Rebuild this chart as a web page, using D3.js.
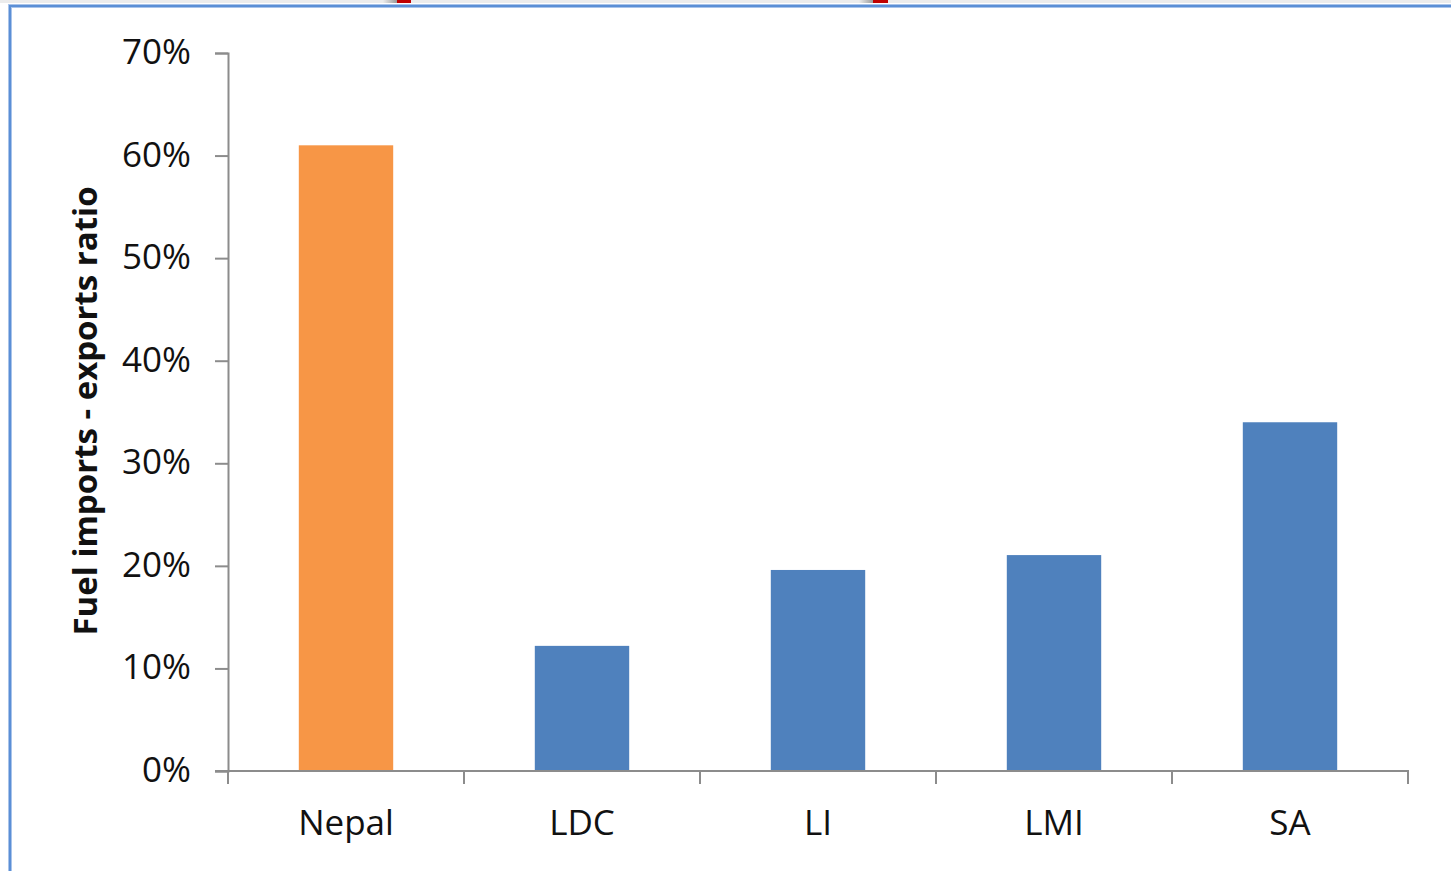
<!DOCTYPE html>
<html>
<head>
<meta charset="utf-8">
<script src="https://cdn.jsdelivr.net/npm/d3@7"></script>
<style>
  html, body { margin: 0; padding: 0; background: #fff; }
  svg { display: block; }
  text { font-family: "Open Sans", "Noto Sans", sans-serif; }
</style>
</head>
<body>
<svg id="chart" width="1451" height="871"></svg>
<script>
// Fuel imports as a share of exports
const categories = ["Nepal", "LDC", "LI", "LMI", "SA"];
const ratios = [0.61, 0.122, 0.196, 0.2105, 0.34];
const highlight = ["Nepal"];
const yTicks = [0, 0.1, 0.2, 0.3, 0.4, 0.5, 0.6, 0.7];
const yTitle = "Fuel imports - exports ratio";

const svg = d3.select("#chart");
const W = 1451, H = 871;

// page frame: grey strip along the top with two red tabs, blue border
svg.append("rect").attr("x", 0).attr("y", 0).attr("width", W).attr("height", 3).attr("fill", "#ececec");
const grad = svg.append("defs").append("linearGradient").attr("id", "fade");
grad.append("stop").attr("offset", "0%").attr("stop-color", "#ececec");
grad.append("stop").attr("offset", "100%").attr("stop-color", "#9a9a9a");
[[397, 411], [873, 888]].forEach(([a, b]) => {
  svg.append("rect").attr("x", a - 14).attr("y", 0).attr("width", 14).attr("height", 3).attr("fill", "url(#fade)");
  svg.append("rect").attr("x", a).attr("y", 0).attr("width", b - a).attr("height", 3).attr("fill", "#c00000");
});
svg.append("path")
  .attr("d", `M10,${H} V6 H${W}`)
  .attr("fill", "none").attr("stroke", "#a9c4ea").attr("stroke-width", 4);
svg.append("path")
  .attr("d", `M10,${H} V6 H${W}`)
  .attr("fill", "none").attr("stroke", "#5b8fd6").attr("stroke-width", 2);

const m = { left: 228, right: 1408, top: 53, bottom: 771 };

const x = d3.scaleBand().domain(categories)
  .range([m.left, m.right]).paddingInner(0.6).paddingOuter(0.3);
const y = d3.scaleLinear().domain([0, 0.7]).range([m.bottom, m.top]);

const axisColor = "#8c8c8c";
const textColor = "#111";

// y axis
const yAxis = svg.append("g").attr("transform", `translate(${m.left},0)`)
  .call(d3.axisLeft(y).tickValues(yTicks).tickFormat(d3.format(".0%")).tickSize(13).tickPadding(24));
yAxis.select(".domain").attr("stroke", axisColor).attr("stroke-width", 2);
yAxis.selectAll(".tick line").attr("stroke", axisColor).attr("stroke-width", 2);
yAxis.selectAll(".tick text").attr("fill", textColor).style("font-size", "35px")
  .attr("dy", "0.3em");

// bars
svg.append("g").selectAll("rect").data(categories).join("rect")
  .attr("x", d => x(d))
  .attr("width", x.bandwidth())
  .attr("y", (d, i) => y(ratios[i]))
  .attr("height", (d, i) => y(0) - y(ratios[i]))
  .attr("fill", d => highlight.includes(d) ? "#f79646" : "#4f81bd");

// x axis with ticks on the category boundaries
const xAxis = svg.append("g").attr("transform", `translate(0,${m.bottom})`);
xAxis.append("line").attr("x1", m.left - 13).attr("x2", m.right + 1)
  .attr("stroke", axisColor).attr("stroke-width", 2);
const bounds = categories.map(c => x(c) - x.step() * 0.3).concat([m.right]);
xAxis.selectAll(".bt").data(bounds).join("line").attr("class", "bt")
  .attr("x1", d => d).attr("x2", d => d).attr("y1", 0).attr("y2", 13)
  .attr("stroke", axisColor).attr("stroke-width", 2);
xAxis.selectAll(".lbl").data(categories).join("text").attr("class", "lbl")
  .attr("x", d => x(d) + x.bandwidth() / 2).attr("y", 64)
  .attr("text-anchor", "middle").attr("fill", textColor).style("font-size", "35px")
  .text(d => d);

// y title
svg.append("text")
  .attr("transform", `translate(97,411) rotate(-90)`)
  .attr("text-anchor", "middle").attr("fill", textColor)
  .style("font-size", "33px").style("font-weight", "700")
  .text(yTitle);
</script>
</body>
</html>
